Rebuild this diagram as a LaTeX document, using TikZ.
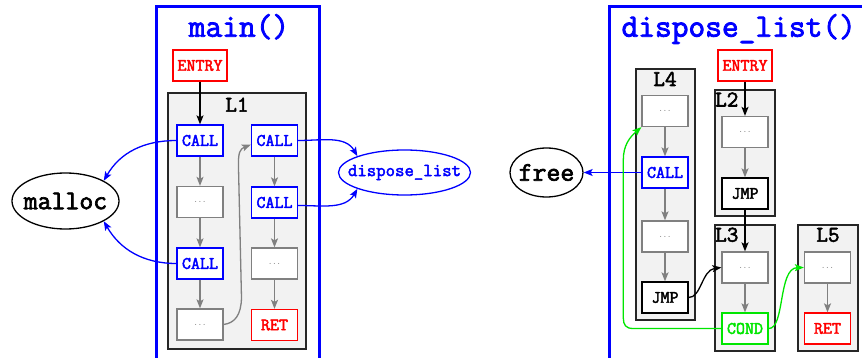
\documentclass[tikz,border=0pt]{standalone}
\usepackage{fontspec}
\setmonofont{Latin Modern Mono}[AutoFakeBold=2.5]
\usetikzlibrary{arrows.meta,shapes.geometric}
\definecolor{cfill}{RGB}{242,242,242}
\definecolor{pblue}{RGB}{0,0,255}
\definecolor{pred}{RGB}{255,0,0}
\definecolor{pgreen}{RGB}{0,230,0}
\definecolor{pgray}{RGB}{128,128,128}
\begin{document}
\begin{tikzpicture}[x=1pt,y=-1pt,
  blk/.style={draw, rectangle, fill=white, line width=1.3pt, minimum width=46pt, minimum height=31pt, inner sep=0pt,
    font=\ttfamily\bfseries\fontsize{17.5}{18}\selectfont},
  wide/.style={blk, minimum width=54pt},
  callbox/.style={blk, draw=pblue, text=pblue},
  redbox/.style={blk, draw=pred, text=pred},
  jmpbox/.style={blk, draw=black, text=black},
  condbox/.style={blk, draw=pgreen, text=pgreen},
  dotbox/.style={blk, draw=pgray, text=pgray, font=\ttfamily\mdseries\fontsize{8}{8}\selectfont},
  fnbox/.style={draw=pblue, line width=3pt},
  clusterbox/.style={draw=black!85, fill=cfill, line width=1.2pt},
  cltitle/.style={anchor=base, inner sep=0pt, font=\ttfamily\bfseries\fontsize{22.5}{23}\selectfont},
  fntitle/.style={anchor=base, inner sep=0pt, text=pblue, font=\ttfamily\bfseries\fontsize{32.5}{33}\selectfont},
  ext/.style={draw, ellipse, line width=1.3pt, inner sep=0pt, font=\ttfamily\bfseries\fontsize{27}{27}\selectfont},
  edge/.style={line width=1.3pt, -{Stealth[length=9pt,width=7pt,inset=2pt]}},
  grayedge/.style={edge, draw=pgray},
  blueedge/.style={edge, draw=pblue},
  greenedge/.style={edge, draw=pgreen},
  blackedge/.style={edge, draw=black}
]
\useasboundingbox (0,0) rectangle (862,358);
\clip (0,0) rectangle (862,358);

% ---------------- main() ----------------
\draw[fnbox] (156.7,7) rectangle (319.7,380);
\node[fntitle] (tmain) at (239,36.7) {main()};
\node[redbox, wide] (entryA) at (200,65.5) {ENTRY};
\draw[clusterbox] (168,93) rectangle (306,349);
\node[cltitle] (lone) at (237,111.7) {L1};
\node[callbox] (c1) at (200,140.5) {CALL};
\node[dotbox] (d1) at (200,202) {...};
\node[callbox] (c2) at (200,263.5) {CALL};
\node[dotbox] (d2) at (200,324.5) {...};
\node[callbox] (c3) at (274.5,140.5) {CALL};
\node[callbox] (c4) at (274.5,202.5) {CALL};
\node[dotbox] (d3) at (274.5,263.5) {...};
\node[redbox] (ret1) at (274.5,325) {RET};

\node[ext, minimum width=107pt, minimum height=56pt] (malloc) at (65.5,201) {\makebox[0pt]{malloc}};
\node[ext, draw=pblue, text=pblue, minimum width=132pt, minimum height=45pt,
  font=\ttfamily\bfseries\fontsize{18.3}{18}\selectfont] (dlist) at (404.5,172.5) {\makebox[0pt]{dispose\_list}};

\draw[blackedge] (entryA) -- (c1);
\draw[grayedge] (c1) -- (d1);
\draw[grayedge] (d1) -- (c2);
\draw[grayedge] (c2) -- (d2);
\draw[grayedge] (c3) -- (c4);
\draw[grayedge] (c4) -- (d3);
\draw[grayedge] (d3) -- (ret1);
\draw[grayedge] (d2.east) .. controls (235,323) and (241,315) .. (241.5,298) -- (238.5,168)
  .. controls (238,152) and (240,149) .. ([yshift=-4pt]c3.west);
\draw[blueedge] (c1.west) to[out=180,in=60] (malloc.north east);
\draw[blueedge] (c2.west) to[out=180,in=-60] (malloc.south east);
\draw[blueedge] (c3.east) to[out=0,in=120] (dlist.north west);
\draw[blueedge] ([yshift=-3pt]c4.east) to[out=0,in=-120] (dlist.south west);

% ---------------- dispose_list() ----------------
\draw[fnbox] (609.2,7) rectangle (870,380);
\node[fntitle] (tdisp) at (738.7,36.7) {dispose\_list()};
\node[redbox, wide] (entryB) at (745,65.5) {ENTRY};

\draw[clusterbox] (636,69) rectangle (695,320);
\node[cltitle] (lfour) at (665,86) {L4};
\draw[clusterbox] (715,90) rectangle (775,216);
\node[cltitle, anchor=base west] (ltwo) at (715,106.5) {L2};
\draw[clusterbox] (715,225) rectangle (775,351);
\node[cltitle, anchor=base west] (lthree) at (715,241.7) {L3};
\draw[clusterbox] (798,225) rectangle (858,351);
\node[cltitle] (lfive) at (828,241.7) {L5};

\node[dotbox] (d4) at (665,111) {...};
\node[callbox] (c5) at (665,172.5) {CALL};
\node[dotbox] (d5) at (665,236.5) {...};
\node[jmpbox] (jmp1) at (665,297.5) {JMP};
\node[dotbox] (d6) at (745,132) {...};
\node[jmpbox] (jmp2) at (745,193.5) {JMP};
\node[dotbox] (d7) at (745,267.5) {...};
\node[condbox] (cond) at (745,328.5) {COND};
\node[dotbox] (d8) at (827.5,267.5) {...};
\node[redbox] (ret2) at (827.5,328.5) {RET};

\node[ext, minimum width=73pt, minimum height=49pt] (free) at (546.5,172.5) {\makebox[0pt]{free}};

\draw[blackedge] (entryB) -- (d6);
\draw[grayedge] (d6) -- (jmp2);
\draw[blackedge] (jmp2) -- (d7);
\draw[grayedge] (d4) -- (c5);
\draw[grayedge] (c5) -- (d5);
\draw[grayedge] (d5) -- (jmp1);
\draw[grayedge] (d7) -- (cond);
\draw[grayedge] (d8) -- (ret2);
\draw[blueedge] (c5.west) -- (free.east);
\draw[blackedge] (jmp1.east) .. controls (701,298) and (702,270) .. (d7.west);
\draw[greenedge] (cond.east) .. controls (785,329) and (778,268) .. (d8.west);
\draw[greenedge] (cond.west) -- (633,328.5) .. controls (626,328.5) and (623.3,325) .. (623.3,318)
  -- (623.3,160) .. controls (623.3,145) and (630,137) .. (d4.south west);
\end{tikzpicture}
\end{document}
